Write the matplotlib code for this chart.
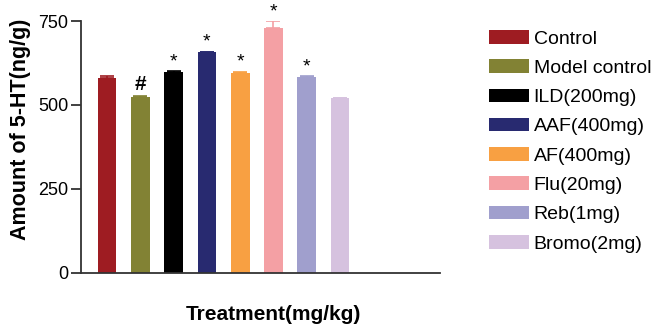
import matplotlib
matplotlib.use("Agg")
import matplotlib.pyplot as plt
from matplotlib.patches import Patch

plt.rcParams['font.family'] = ['Liberation Sans', 'DejaVu Sans']

groups = ["Control", "Model control", "ILD(200mg)", "AAF(400mg)", "AF(400mg)",
          "Flu(20mg)", "Reb(1mg)", "Bromo(2mg)"]
values = [580, 524, 599, 657, 596, 729, 583, 520]
errors = [6, 4, 2, 2, 3, 20, 2, 2]
marks = ["", "#", "*", "*", "*", "*", "*", ""]
colors = ["#9e1c22", "#828234", "#000000", "#282a70", "#f8a042", "#f4a0a4",
          "#a09fcd", "#d6c2df"]
yticks = [0, 250, 500, 750]

fig = plt.figure(figsize=(6.62, 3.24), dpi=100)
ax = fig.add_axes([81/662, 1 - 272.7/324, (440-81)/662, (272.7-21)/324])

xs = list(range(len(values)))
for x, v, e, c, m in zip(xs, values, errors, colors, marks):
    ax.bar(x, v, width=0.56, color=c, zorder=2)
    ax.errorbar(x, v, yerr=[[0], [e]], ecolor=c, elinewidth=1.2, capsize=5,
                capthick=1.2, fmt='none', zorder=3)
    if m:
        ax.text(x, v + e + 3, m, ha='center', va='bottom',
                fontsize=15 if m == "#" else 14, fontweight='bold' if m == "#" else 'normal')

ax.set_xlim(-0.78, 10.0)
ax.set_ylim(0, 750)
ax.set_yticks(yticks)
ax.set_yticklabels([str(t) for t in yticks], fontsize=13)
ax.set_xticks([])
for s in ["top", "right"]:
    ax.spines[s].set_visible(False)
ax.spines["left"].set_linewidth(1.3)
ax.spines["bottom"].set_linewidth(1.3)
ax.spines["left"].set_color("#333333")
ax.spines["bottom"].set_color("#333333")
ax.tick_params(axis='y', length=7, width=1.3, color="#333333", pad=2)
ax.set_ylabel("Amount of 5-HT(ng/g)", fontsize=15.5, fontweight='bold', labelpad=6)
ax.yaxis.set_label_coords(-0.14, 0.57)

fig.text(273/662, 1 - 315/324, "Treatment(mg/kg)", ha='center', va='center',
         fontsize=15, fontweight='bold')

handles = [Patch(facecolor=c, edgecolor='none') for c in colors]
fig.legend(handles, groups, loc='upper left', bbox_to_anchor=(489/662, 1 - 30/324),
           frameon=False, fontsize=14, handlelength=2.05, handleheight=0.7,
           handletextpad=0.25, labelspacing=0.6, borderaxespad=0, borderpad=0)

fig.savefig("out.png", dpi=100)
